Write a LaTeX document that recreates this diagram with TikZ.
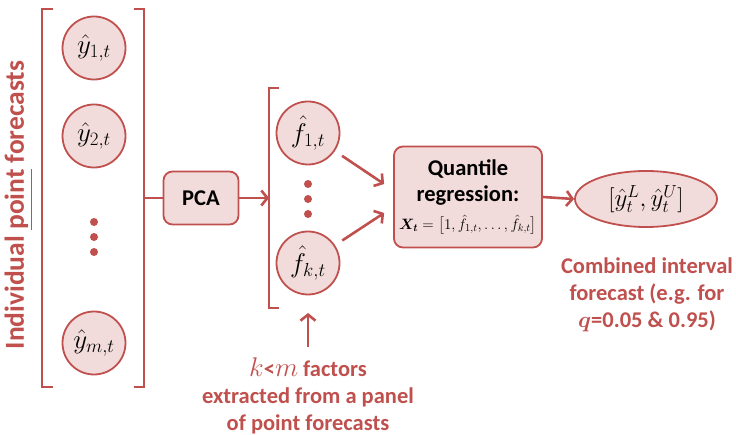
\RequirePackage{fix-cm}
\documentclass[tikz,border=0pt]{standalone}
\usepackage{amsmath}
\usepackage{bm}
\usepackage{fontspec}
\setmainfont{Carlito}
\usetikzlibrary{arrows.meta,calc,shapes.geometric}
\definecolor{dred}{HTML}{C0504D}
\definecolor{lpink}{HTML}{F2DCDB}
\tikzset{
  fc/.style={circle,draw=dred,fill=lpink,line width=1.8pt,minimum size=63pt,inner sep=0pt,font=\fontsize{27}{30}\selectfont},
  bdot/.style={circle,fill=dred,minimum size=8pt,inner sep=0pt},
  brk/.style={draw=dred,line width=2.6pt},
  arr/.style={draw=dred,line width=2.6pt,-{Straight Barb[length=6pt,width=15pt]}},
  rbox/.style={draw=dred,fill=lpink,line width=1.8pt,rounded corners=9pt,inner sep=0pt},
  redtxt/.style={text=dred,font=\bfseries\fontsize{22.5}{27}\selectfont,align=center}
}
\begin{document}
\begin{tikzpicture}[x=1pt,y=-1pt]
\useasboundingbox (0,0) rectangle (736,435);
% vertical label
\node[rotate=90,text=dred,font=\bfseries\fontsize{27.5}{30}\selectfont] (lab) at (19,205) {Individual \underline{point} forecasts};
% left bracket pair
\draw[brk] (53,9) -- (42,9) -- (42,387) -- (53,387);
\draw[brk] (134,9) -- (144,9) -- (144,387) -- (134,387);
\coordinate (rb) at (144,198);
% forecast circles
\node[fc] (y1) at (94,48) {$\hat{y}_{1,t}$};
\node[fc] (y2) at (94,136) {$\hat{y}_{2,t}$};
\node[fc] (ym) at (94,343) {$\hat{y}_{m,t}$};
\node[bdot] (d1) at (94,222) {};
\node[bdot] (d2) at (94,237) {};
\node[bdot] (d3) at (94,252) {};
% PCA
\node[rbox,minimum width=75pt,minimum height=53pt,font=\bfseries\fontsize{22.5}{26}\selectfont] (pca) at (201,198) {PCA};
\draw[brk] (rb) -- (pca.west);
% second bracket
\draw[brk] (279,88) -- (269,88) -- (269,308) -- (279,308);
\coordinate (lb2) at (269,198);
\draw[arr] (pca.east) -- (lb2);
% factor circles
\node[fc] (f1) at (308,133) {$\hat{f}_{1,t}$};
\node[fc] (fk) at (308,263) {$\hat{f}_{k,t}$};
\node[bdot] (e1) at (308,184) {};
\node[bdot] (e2) at (308,199) {};
\node[bdot] (e3) at (308,214) {};
% quantile regression box
\node[rbox,minimum width=148pt,minimum height=101pt,align=center,font=\bfseries\fontsize{22.5}{26}\selectfont] (qr) at (468,197)
  {Quantile\\regression:\\[2pt]
   \fontsize{15}{18}\selectfont $\bm{X_t}=\bigl[1,\hat{f}_{1,t},\ldots,\hat{f}_{k,t}\bigr]$};
\coordinate (q1) at ($(qr.west)+(-9,-13)$);
\coordinate (q2) at ($(qr.west)+(-9,16)$);
\draw[arr] ($(f1)!41pt!(q1)$) -- (q1);
\draw[arr] ($(fk)!41pt!(q2)$) -- (q2);
% output ellipse
\node[ellipse,draw=dred,fill=lpink,line width=1.8pt,minimum width=142pt,minimum height=56pt,inner sep=0pt,font=\fontsize{25}{28}\selectfont] (out) at (646,199) {$[\hat{y}_t^{L},\hat{y}_t^{U}]$};
\draw[arr] (qr.east) -- (out.west);
\node[redtxt] (cap) at (647,295) {Combined interval\\forecast (e.g. for\\$\bm{q}$=0.05 \& 0.95)};
% bottom note
\coordinate (ba) at (308,347);
\coordinate (bt) at (308,313);
\draw[arr] (ba) -- (bt);
\node[redtxt] (note) at (308,396) {{\fontsize{27}{27}\selectfont$k$}<{\fontsize{27}{27}\selectfont$m$} factors\\extracted from a panel\\of point forecasts};
\end{tikzpicture}
\end{document}
